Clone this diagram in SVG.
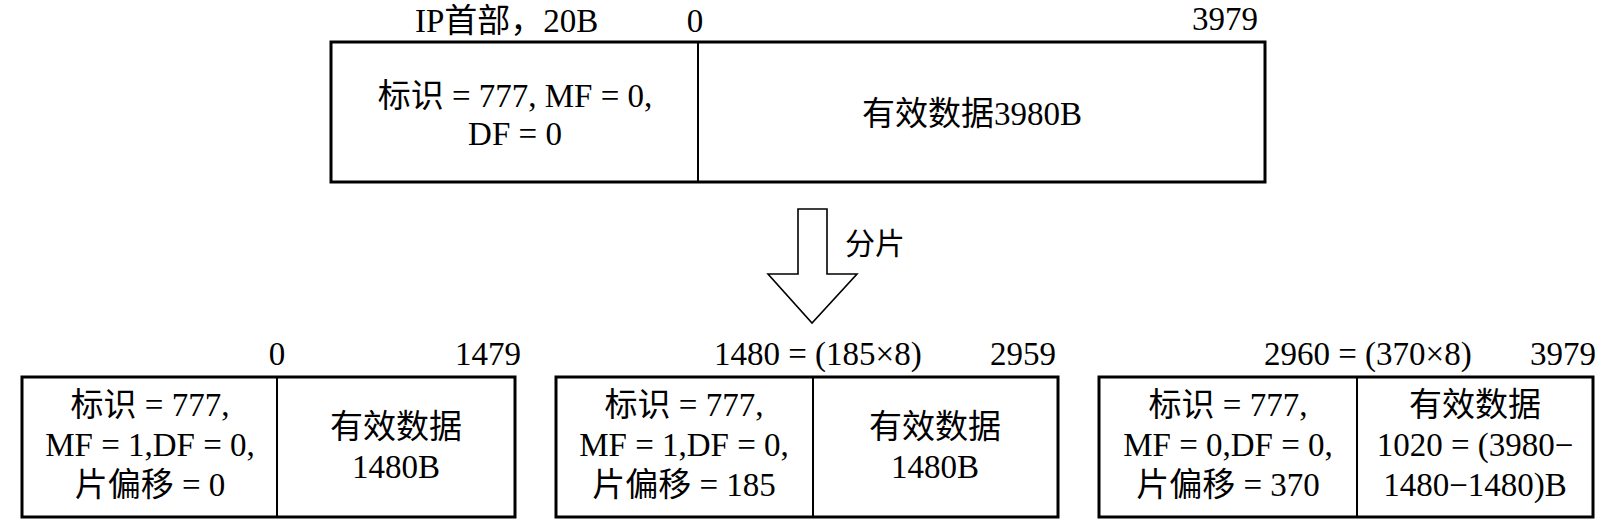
<svg xmlns="http://www.w3.org/2000/svg" width="1607" height="529" viewBox="0 0 1607 529">
<style>
text{font-family:"Liberation Serif","Noto Sans CJK SC",serif;font-size:33px;fill:#000}
.m{text-anchor:middle}
.e{text-anchor:end}
.box{fill:#fff;stroke:#000;stroke-width:3}
.div{stroke:#000;stroke-width:2}
.arrow{fill:#fff;stroke:#000;stroke-width:1.6}
</style>
<rect width="1607" height="529" fill="#fff"/>
<g id="original">
<text x="415" y="32">IP首部，20B</text>
<text class="m" x="695" y="32">0</text>
<text class="e" x="1258" y="30">3979</text>
<rect class="box" x="331" y="42" width="934" height="140"/>
<line class="div" x1="698" y1="42" x2="698" y2="182"/>
<text class="m" x="515" y="107">标识 = 777, MF = 0,</text>
<text class="m" x="515" y="145">DF = 0</text>
<text class="m" x="972" y="125">有效数据3980B</text>
</g>
<g id="connectors">
<polygon class="arrow" points="798,209 827,209 827,274 857,274 812,323 768,274 798,274"/>
<text x="845" y="254" style="font-size:30px">分片</text>
</g>
<g id="frag1">
<text class="m" x="277" y="365">0</text>
<text class="e" x="521" y="365">1479</text>
<rect class="box" x="22" y="377" width="493" height="140"/>
<line class="div" x1="277" y1="377" x2="277" y2="517"/>
<text class="m" x="150" y="416">标识 = 777,</text>
<text class="m" x="150" y="456">MF = 1,DF = 0,</text>
<text class="m" x="150" y="496">片偏移 = 0</text>
<text class="m" x="396" y="438">有效数据</text>
<text class="m" x="396" y="478">1480B</text>
</g>
<g id="frag2">
<text x="714" y="365">1480 = (185×8)</text>
<text class="e" x="1056" y="365">2959</text>
<rect class="box" x="556" y="377" width="502" height="140"/>
<line class="div" x1="813" y1="377" x2="813" y2="517"/>
<text class="m" x="684" y="416">标识 = 777,</text>
<text class="m" x="684" y="456">MF = 1,DF = 0,</text>
<text class="m" x="684" y="496">片偏移 = 185</text>
<text class="m" x="935" y="438">有效数据</text>
<text class="m" x="935" y="478">1480B</text>
</g>
<g id="frag3">
<text x="1264" y="365">2960 = (370×8)</text>
<text class="e" x="1596" y="365">3979</text>
<rect class="box" x="1099" y="377" width="494" height="140"/>
<line class="div" x1="1357" y1="377" x2="1357" y2="517"/>
<text class="m" x="1228" y="416">标识 = 777,</text>
<text class="m" x="1228" y="456">MF = 0,DF = 0,</text>
<text class="m" x="1228" y="496">片偏移 = 370</text>
<text class="m" x="1475" y="416">有效数据</text>
<text class="m" x="1475" y="456">1020 = (3980−</text>
<text class="m" x="1475" y="496">1480−1480)B</text>
</g>
</svg>
